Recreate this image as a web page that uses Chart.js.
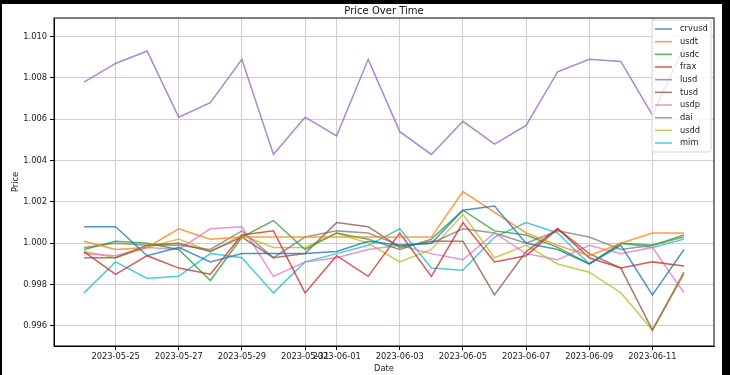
<!DOCTYPE html>
<html>
<head>
<meta charset="utf-8">
<script src="https://cdn.jsdelivr.net/npm/chart.js@4"></script>
<style>
  body { margin: 0; background: #000; }
  #wrap { position: absolute; left: 2px; top: 4px; width: 720px; height: 371px; background: #fff; }
</style>
</head>
<body>
<div id="wrap"><canvas id="myChart" width="720" height="371"></canvas></div>
<script>
const dates = ['2023-05-24','2023-05-25','2023-05-26','2023-05-27','2023-05-28','2023-05-29','2023-05-30',
  '2023-05-31','2023-06-01','2023-06-02','2023-06-03','2023-06-04','2023-06-05','2023-06-06','2023-06-07',
  '2023-06-08','2023-06-09','2023-06-10','2023-06-11','2023-06-12'];
const tickLabels = ['2023-05-25','2023-05-27','2023-05-29','2023-05-31','2023-06-01','2023-06-03',
  '2023-06-05','2023-06-07','2023-06-09','2023-06-11'];
const yTicks = [0.996, 0.998, 1.000, 1.002, 1.004, 1.006, 1.008, 1.010];

const names = ['crvusd','usdt','usdc','frax','lusd','tusd','usdp','dai','usdd','mim'];
const colors = ['#1f77b4','#ff7f0e','#2ca02c','#d62728','#9467bd','#8c564b','#e377c2','#7f7f7f','#bcbd22','#17becf'];

const crvusd = [1.0008,1.0008,0.9994,0.9998,0.9991,0.9995,0.9995,0.9995,0.9996,1.0001,0.9999,1.0000,1.0016,1.0018,1.0000,0.9997,0.9990,0.9999,0.9975,0.9997];
const usdt   = [1.0001,0.9997,0.9998,1.0007,1.0002,1.0003,1.0003,1.0003,1.0003,1.0003,1.0003,1.0003,1.0025,1.0015,1.0005,0.9999,0.9994,1.0000,1.0005,1.0005];
const usdc   = [0.9997,1.0001,1.0000,0.9997,0.9982,1.0003,1.0011,0.9997,1.0005,1.0002,0.9997,1.0002,1.0016,1.0006,1.0004,0.9998,0.9990,1.0000,0.9999,1.0004];
const frax   = [0.9996,0.9985,0.9994,0.9988,0.9985,1.0004,1.0006,0.9976,0.9994,0.9984,1.0005,0.9984,1.0010,0.9991,0.9994,1.0007,0.9993,0.9988,0.9991,0.9989];
const lusd   = [1.0078,1.0087,1.0093,1.0061,1.0068,1.0089,1.0043,1.0061,1.0052,1.0089,1.0054,1.0043,1.0059,1.0048,1.0057,1.0083,1.0089,1.0088,1.0062,1.0095];
const tusd   = [0.9993,0.9993,0.9999,1.0000,0.9996,1.0003,0.9993,0.9995,1.0010,1.0008,0.9998,1.0001,1.0001,0.9975,0.9996,1.0007,0.9995,0.9988,0.9958,0.9986];
const usdp   = [0.9995,0.9994,0.9998,0.9997,1.0007,1.0008,0.9984,0.9991,0.9993,0.9997,0.9999,0.9995,0.9992,1.0005,0.9995,0.9992,0.9999,0.9995,0.9998,0.9976];
const dai    = [0.9998,1.0000,0.9999,0.9999,0.9997,1.0006,0.9993,1.0003,1.0006,1.0005,0.9999,1.0000,1.0007,1.0005,1.0000,1.0006,1.0003,0.9997,0.9999,1.0003];
const usdd   = [0.9996,0.9993,0.9998,1.0002,0.9996,1.0004,0.9998,0.9998,1.0005,1.0000,0.9991,0.9997,1.0014,0.9993,0.9999,0.9990,0.9986,0.9976,0.9958,0.9985];
const mim    = [0.9976,0.9991,0.9983,0.9984,0.9995,0.9993,0.9976,0.9991,0.9995,0.9999,1.0007,0.9988,0.9987,1.0003,1.0010,1.0005,0.9990,1.0000,0.9998,1.0002];
const series = [crvusd, usdt, usdc, frax, lusd, tusd, usdp, dai, usdd, mim];

const font = '"DejaVu Sans", sans-serif';

// title, frame and the legend box inside the plot, like matplotlib
const extras = {
  id: 'extras',
  afterDraw(chart) {
    const ctx = chart.ctx;
    const a = chart.chartArea;
    ctx.save();
    ctx.strokeStyle = '#000';
    ctx.lineWidth = 1;
    ctx.strokeRect(a.left, a.top, a.right - a.left, a.bottom - a.top);

    ctx.fillStyle = '#111';
    ctx.font = '10px ' + font;
    ctx.textAlign = 'center';
    ctx.textBaseline = 'alphabetic';
    ctx.fillText('Price Over Time', (a.left + a.right) / 2, a.top - 4);

    const bx = a.right - 62, by = a.top + 2, bw = 59, bh = 132;
    ctx.beginPath();
    ctx.roundRect(bx, by, bw, bh, 2);
    ctx.fillStyle = 'rgba(255,255,255,0.8)';
    ctx.fill();
    ctx.strokeStyle = '#d6d6d6';
    ctx.stroke();

    ctx.font = '8.3px ' + font;
    ctx.textAlign = 'left';
    ctx.textBaseline = 'middle';
    chart.data.datasets.forEach((ds, i) => {
      const y = by + 9 + i * 12.67;
      ctx.beginPath();
      ctx.moveTo(bx + 3, y);
      ctx.lineTo(bx + 20, y);
      ctx.strokeStyle = ds.borderColor;
      ctx.lineWidth = 1.5;
      ctx.stroke();
      ctx.fillStyle = '#222';
      ctx.fillText(ds.label, bx + 28, y);
    });
    ctx.restore();
  }
};

const ctx = document.getElementById('myChart').getContext('2d');
const chart = new Chart(ctx, {
  type: 'line',
  data: {
    datasets: names.map((n, i) => ({
      label: n,
      data: series[i].map((v, j) => ({ x: j, y: v })),
      borderColor: colors[i] + 'c8',
      borderWidth: 1.5,
      pointRadius: 0,
      tension: 0,
      fill: false
    }))
  },
  options: {
    responsive: false,
    animation: false,
    layout: { padding: { top: 14, right: 8, left: 0, bottom: 0 } },
    plugins: { legend: { display: false }, title: { display: false }, tooltip: { enabled: false } },
    scales: {
      x: {
        type: 'linear',
        min: -0.95,
        max: dates.length - 1 + 0.95,
        afterBuildTicks: (s) => { s.ticks = tickLabels.map(t => ({ value: dates.indexOf(t) })); },
        afterFit: (s) => { s.height = 29; },
        ticks: {
          autoSkip: false, maxRotation: 0, minRotation: 0, padding: 2,
          color: '#222', font: { family: font, size: 8.3 },
          callback: (v, i) => tickLabels[i]
        },
        grid: { color: '#cfcfcf', lineWidth: 1, tickLength: 4, tickColor: '#000' },
        border: { display: true, color: '#000' },
        title: { display: true, text: 'Date', color: '#222', font: { family: font, size: 8.3 }, padding: { top: 0, bottom: 1 } }
      },
      y: {
        min: 0.99503,
        max: 1.0109,
        afterBuildTicks: (s) => { s.ticks = yTicks.map(v => ({ value: v })); },
        afterFit: (s) => { s.width = 52; },
        ticks: {
          padding: 3, color: '#222', font: { family: font, size: 8.3 },
          callback: (v) => v.toFixed(3)
        },
        grid: { color: '#cfcfcf', lineWidth: 1, tickLength: 4, tickColor: '#000' },
        border: { display: true, color: '#000' },
        title: { display: true, text: 'Price', color: '#222', font: { family: font, size: 8.3 }, padding: { top: 9, bottom: 0 } }
      }
    }
  },
  plugins: [extras]
});
</script>
</body>
</html>
